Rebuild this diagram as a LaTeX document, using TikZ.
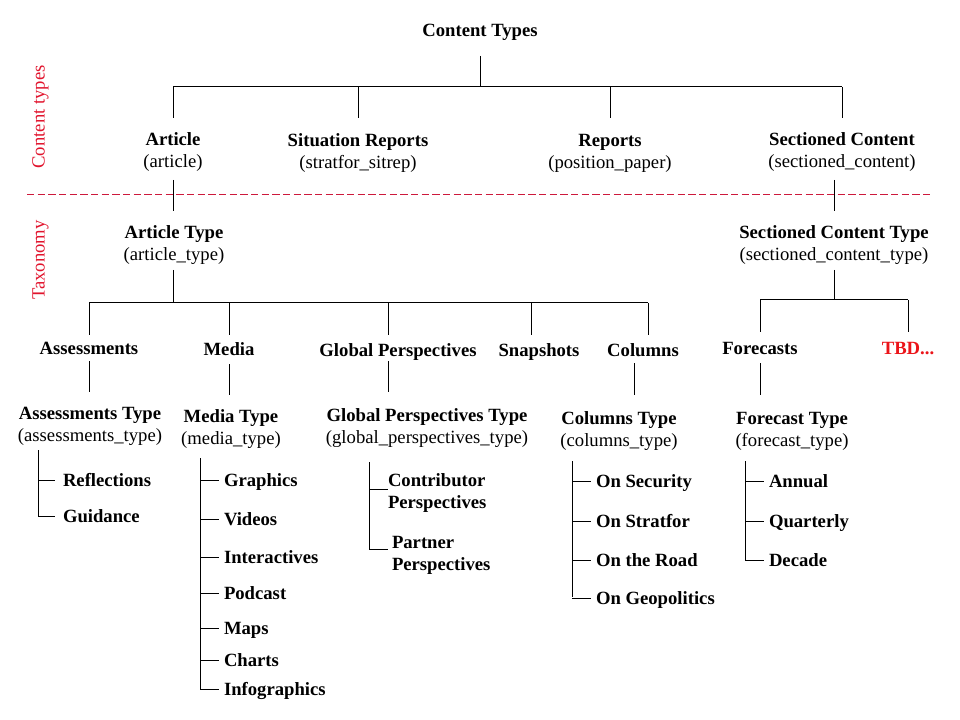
\documentclass[tikz,border=0pt]{standalone}
\usepackage{fontspec}
\setmainfont{Liberation Serif}
\definecolor{dashred}{RGB}{205,25,60}
\definecolor{sidered}{RGB}{225,20,45}
\definecolor{tbdred}{RGB}{235,20,25}
\begin{document}
\begin{tikzpicture}[x=0.75pt,y=-0.75pt,
  every node/.style={inner sep=0pt,outer sep=0pt,font=\fontsize{14}{16.5}\selectfont,text height=10pt,text depth=3pt},
  lbl/.style={align=center},
  bl/.style={font=\fontsize{14}{16.5}\selectfont\bfseries},
  leaf/.style={anchor=west,align=left,font=\fontsize{14}{16.5}\selectfont\bfseries},
  side/.style={rotate=90,text=sidered},
  ln/.style={line width=0.75pt,black}]
\useasboundingbox (0,0) rectangle (960,720);
% side labels
\node[side] (sct) at (40,117) {Content types};
\node[side] (stx) at (40,260) {Taxonomy};
\coordinate (dl) at (27,195);
\coordinate (dr) at (933,195);
\draw[dashred,line width=0.75pt,dash pattern=on 5.5pt off 2.5pt] (dl) -- (dr);
% root
\node[bl] (ct) at (480,32) {Content Types};
\coordinate (ctb) at (480,56);
\coordinate (b1) at (480,87);
\coordinate (b1l) at (173,87);
\coordinate (b1r) at (842,87);
\draw[ln] (ctb) -- (b1);
\draw[ln] (b1l) -- (b1r);
% level 1
\node[lbl] (art) at (173,163) {\textbf{Article}\\(article)};
\node[lbl] (sit) at (358,164) {\textbf{Situation Reports}\\(stratfor\_sitrep)};
\node[lbl] (rep) at (610,164) {\textbf{Reports}\\(position\_paper)};
\node[lbl] (sec) at (842,163) {\textbf{Sectioned Content}\\(sectioned\_content)};
\foreach \n/\x in {art/173,sit/358,rep/610,sec/842}{
  \coordinate (\n t) at (\x,118);
  \draw[ln] (\x,87) -- (\n t);
}
% article type
\node[lbl] (at) at (174,256) {\textbf{Article Type}\\(article\_type)};
\coordinate (artb) at (173,180);
\coordinate (att) at (173,211);
\draw[ln] (artb) -- (att);
\coordinate (atb) at (173,270);
\coordinate (b2) at (173,303);
\draw[ln] (atb) -- (b2);
\coordinate (b2l) at (89,303);
\coordinate (b2r) at (648,303);
\draw[ln] (b2l) -- (b2r);
% sectioned content type
\node[lbl] (sct2) at (834,256) {\textbf{Sectioned Content Type}\\(sectioned\_content\_type)};
\coordinate (secb) at (834,180);
\coordinate (sctt) at (834,211);
\draw[ln] (secb) -- (sctt);
\coordinate (sctb) at (834,270);
\coordinate (b3) at (834,300);
\draw[ln] (sctb) -- (b3);
\coordinate (b3l) at (760,300);
\coordinate (b3r) at (908,300);
\draw[ln] (b3l) -- (b3r);
% level 2 labels
\node[bl] (ass) at (89,350) {Assessments};
\node[bl] (med) at (229,351) {Media};
\node[bl] (glo) at (398,352) {Global Perspectives};
\node[bl] (sna) at (539,352) {Snapshots};
\node[bl] (col) at (643,352) {Columns};
\node[bl] (for) at (760,350) {Forecasts};
\node[bl,text=tbdred] (tbd) at (908,350) {TBD...};
\foreach \x in {89,229,388,531,648}{ \draw[ln] (\x,303) -- (\x,335); }
\foreach \x in {760,908}{ \draw[ln] (\x,300) -- (\x,332); }
% type labels
\node[lbl] (asst) at (90,437) {\textbf{Assessments Type}\\(assessments\_type)};
\node[lbl] (medt) at (231,440) {\textbf{Media Type}\\(media\_type)};
\node[lbl] (glot) at (427,439) {\textbf{Global Perspectives Type}\\(global\_perspectives\_type)};
\node[lbl] (colt) at (619,442) {\textbf{Columns Type}\\(columns\_type)};
\node[lbl] (fort) at (792,442) {\textbf{Forecast Type}\\(forecast\_type)};
\draw[ln] (89,361) -- (89,392);
\draw[ln] (229,364) -- (229,395);
\draw[ln] (388,361) -- (388,392);
\draw[ln] (634,363) -- (634,395);
\draw[ln] (760,363) -- (760,395);
% assessments leaves
\draw[ln] (38,450) -- (38,517);
\foreach \y/\t/\n in {480/Reflections/l1,516/Guidance/l2}{
  \draw[ln] (38,\y) -- (55,\y);
  \node[leaf] (a\n) at (63,\y+2) {\t};
}
% media leaves
\draw[ln] (200,458) -- (200,689);
\foreach \y/\t/\n in {480/Graphics/l1,519/Videos/l2,557/Interactives/l3,593/Podcast/l4,628/Maps/l5,660/Charts/l6,689/Infographics/l7}{
  \draw[ln] (200,\y) -- (219,\y);
  \node[leaf] (m\n) at (224,\y+2) {\t};
}
% global perspectives leaves
\draw[ln] (369,462) -- (369,550);
\draw[ln] (369,489) -- (388,489);
\draw[ln] (369,549) -- (388,549);
\node[leaf] (g1) at (388,504) {Contributor\\Perspectives};
\node[leaf] (g2) at (392,566) {Partner\\Perspectives};
% columns leaves
\draw[ln] (572,461) -- (572,597);
\foreach \y/\t/\n in {481/On Security/l1,521/On Stratfor/l2,560/On the Road/l3,598/On Geopolitics/l4}{
  \draw[ln] (572,\y) -- (591,\y);
  \node[leaf] (c\n) at (596,\y+2) {\t};
}
% forecast leaves
\draw[ln] (745,461) -- (745,561);
\foreach \y/\t/\n in {481/Annual/l1,521/Quarterly/l2,560/Decade/l3}{
  \draw[ln] (745,\y) -- (764,\y);
  \node[leaf] (f\n) at (769,\y+2) {\t};
}
\end{tikzpicture}
\end{document}
